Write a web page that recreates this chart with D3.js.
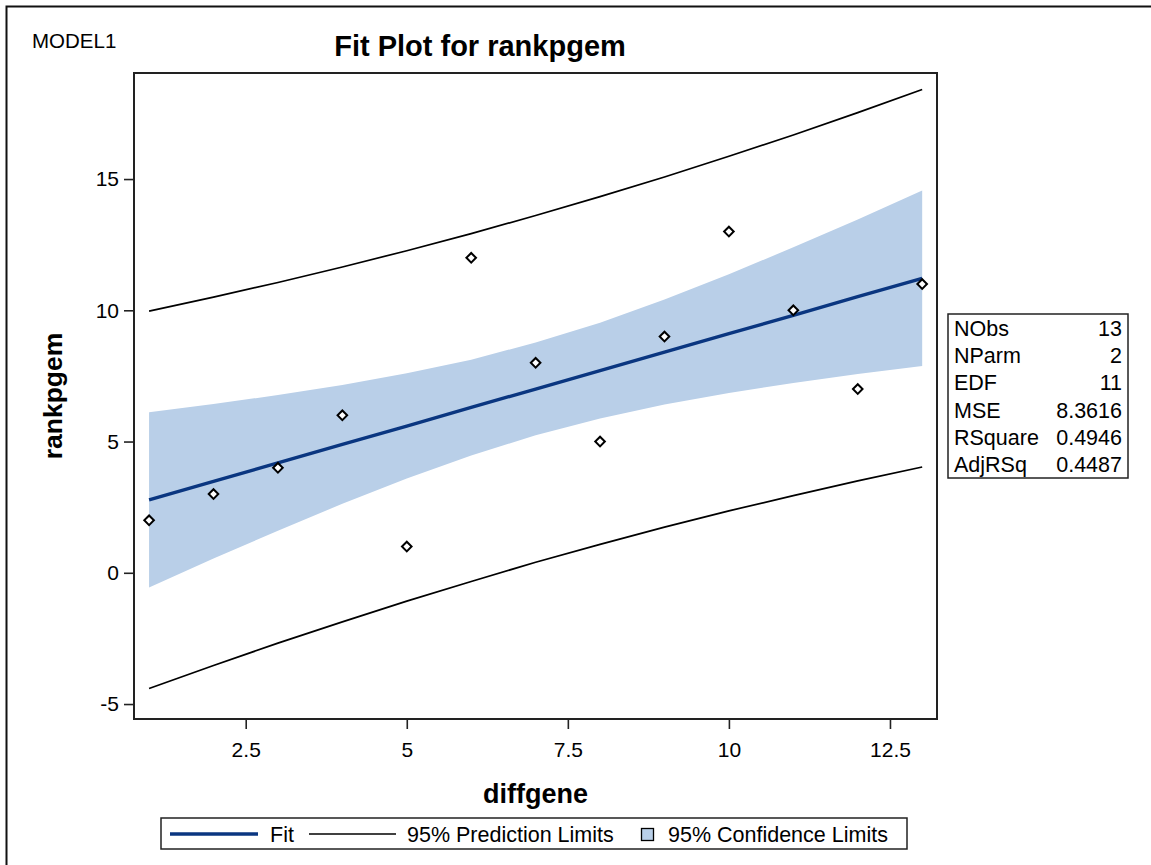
<!DOCTYPE html>
<html>
<head>
<meta charset="utf-8">
<script src="https://cdn.jsdelivr.net/npm/d3@7"></script>
<style>
html,body{margin:0;padding:0;background:#fff;}
svg{display:block;font-family:"Liberation Sans",Arial,Helvetica,sans-serif;}
</style>
</head>
<body>
<script>
// ---- data ----
const diffgene = [1,2,3,4,5,6,7,8,9,10,11,12,13];
const rankpgem = [2,3,4,6,1,12,8,5,9,13,10,7,11];
const fitValues = [2.78,3.48,4.19,4.89,5.59,6.30,7.00,7.70,8.41,9.11,9.81,10.52,11.22];
const clLower = [-0.56,0.54,1.60,2.63,3.59,4.47,5.24,5.88,6.41,6.85,7.23,7.57,7.88];
const clUpper = [6.12,6.43,6.77,7.15,7.60,8.12,8.77,9.53,10.41,11.37,12.40,13.46,14.56];
const plLower = [-4.41,-3.53,-2.68,-1.87,-1.08,-0.33,0.40,1.08,1.74,2.36,2.94,3.50,4.03];
const plUpper = [9.97,10.50,11.06,11.65,12.27,12.92,13.61,14.33,15.08,15.87,16.68,17.53,18.41];
const xTicks = [2.5,5,7.5,10,12.5];
const yTicks = [-5,0,5,10,15];
const statLabels = ["NObs","NParm","EDF","MSE","RSquare","AdjRSq"];
const statValues = ["13","2","11","8.3616","0.4946","0.4487"];
const legendLabels = ["Fit","95% Prediction Limits","95% Confidence Limits"];

const W = 1151, H = 865;
const plot = {l:134, r:937, t:73, b:719};
const fitColor = "#0a3680", bandColor = "#b9cfe8";

const svg = d3.select("body").append("svg").attr("width",W).attr("height",H);

// outer frame (top and left edges visible)
svg.append("path").attr("d",`M6.5,${H} V6.5 H${W}`).attr("fill","none").attr("stroke","#111").attr("stroke-width",2);

const x = d3.scaleLinear().domain([0.766,13.23]).range([plot.l,plot.r]);
const y = d3.scaleLinear().domain([-5.57,19.04]).range([plot.b,plot.t]);

const rows = diffgene.map((d,i)=>({x:d,y:rankpgem[i],fit:fitValues[i],cl:clLower[i],cu:clUpper[i],pl:plLower[i],pu:plUpper[i]}));

svg.append("text").attr("x",32).attr("y",48).attr("font-size",20.5).attr("fill","#000").text("MODEL1");
svg.append("text").attr("x",480).attr("y",56).attr("text-anchor","middle").attr("font-size",29).attr("font-weight","bold").attr("fill","#000").text("Fit Plot for rankpgem");

const g = svg.append("g");
// confidence band
g.append("path").datum(rows)
 .attr("d", d3.area().x(d=>x(d.x)).y0(d=>y(d.cl)).y1(d=>y(d.cu)))
 .attr("fill",bandColor).attr("stroke","none");
// prediction limits
["pl","pu"].forEach(k=>{
  g.append("path").datum(rows)
   .attr("d", d3.line().x(d=>x(d.x)).y(d=>y(d[k])))
   .attr("fill","none").attr("stroke","#000").attr("stroke-width",1.7);
});
// fit
g.append("path").datum(rows)
 .attr("d", d3.line().x(d=>x(d.x)).y(d=>y(d.fit)))
 .attr("fill","none").attr("stroke",fitColor).attr("stroke-width",3.4);
// points
const sym = d3.symbol().type(d3.symbolSquare).size(46);
g.selectAll(".pt").data(rows).enter().append("path")
 .attr("d",sym)
 .attr("transform",d=>`translate(${x(d.x)},${y(d.y)}) rotate(45)`)
 .attr("fill","#fff").attr("stroke","#000").attr("stroke-width",2);

// frame
svg.append("rect").attr("x",plot.l).attr("y",plot.t).attr("width",plot.r-plot.l).attr("height",plot.b-plot.t)
 .attr("fill","none").attr("stroke","#222").attr("stroke-width",2);

// axes
const fmt = d => d3.format("~g")(d).replace("\u2212","-");
const xAxis = d3.axisBottom(x).tickValues(xTicks).tickSize(10).tickPadding(13).tickFormat(fmt);
const xa = svg.append("g").attr("transform",`translate(0,${plot.b})`).call(xAxis);
const yAxis = d3.axisLeft(y).tickValues(yTicks).tickSize(10).tickPadding(5).tickFormat(fmt);
const ya = svg.append("g").attr("transform",`translate(${plot.l},0)`).call(yAxis);
[xa,ya].forEach(a=>{
  a.select(".domain").remove();
  a.selectAll(".tick line").attr("stroke","#222").attr("stroke-width",1.6);
  a.selectAll(".tick text").attr("font-size",21).attr("fill","#000").attr("font-family","Liberation Sans, Arial, sans-serif");
});

svg.append("text").attr("x",(plot.l+plot.r)/2).attr("y",803).attr("text-anchor","middle")
 .attr("font-size",27).attr("font-weight","bold").attr("fill","#000").text("diffgene");
svg.append("text").attr("transform",`translate(62,${(plot.t+plot.b)/2}) rotate(-90)`).attr("text-anchor","middle")
 .attr("font-size",26.5).attr("font-weight","bold").attr("fill","#000").text("rankpgem");

// stats table
const tb = {l:948, r:1128, t:314, b:478};
svg.append("rect").attr("x",tb.l).attr("y",tb.t).attr("width",tb.r-tb.l).attr("height",tb.b-tb.t)
 .attr("fill","#fff").attr("stroke","#222").attr("stroke-width",1.5);
const rowH = (tb.b-tb.t)/statLabels.length;
statLabels.forEach((lab,i)=>{
  const by = tb.t + rowH*i + 21.5;
  svg.append("text").attr("x",954).attr("y",by).attr("font-size",21.5).attr("fill","#000").text(lab);
  svg.append("text").attr("x",1122).attr("y",by).attr("text-anchor","end").attr("font-size",21.5).attr("fill","#000").text(statValues[i]);
});

// legend
const lg = svg.append("g");
lg.append("rect").attr("x",161).attr("y",818).attr("width",907-161).attr("height",31)
 .attr("fill","#fff").attr("stroke","#222").attr("stroke-width",1.5);
lg.append("line").attr("x1",170).attr("x2",258).attr("y1",834).attr("y2",834).attr("stroke",fitColor).attr("stroke-width",3.4);
lg.append("text").attr("x",270).attr("y",841.5).attr("font-size",21.5).attr("fill","#000").text(legendLabels[0]);
lg.append("line").attr("x1",309).attr("x2",396).attr("y1",834).attr("y2",834).attr("stroke","#000").attr("stroke-width",1.7);
lg.append("text").attr("x",407).attr("y",841.5).attr("font-size",21.5).attr("fill","#000").text(legendLabels[1]);
lg.append("rect").attr("x",641.5).attr("y",828.5).attr("width",12).attr("height",12).attr("fill",bandColor).attr("stroke","#000").attr("stroke-width",1.3);
lg.append("text").attr("x",668).attr("y",841.5).attr("font-size",21.5).attr("fill","#000").text(legendLabels[2]);
</script>
</body>
</html>
